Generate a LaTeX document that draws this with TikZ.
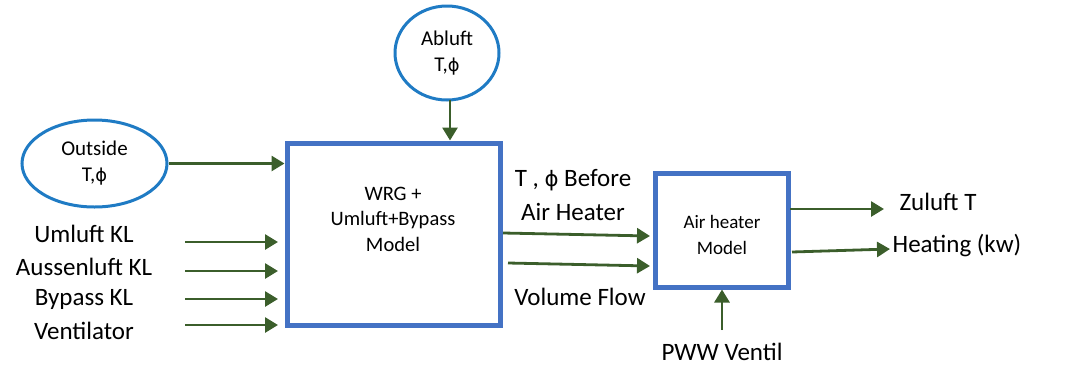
\documentclass[tikz,border=0pt]{standalone}
\usepackage{fontspec}
\setmainfont{Carlito}
\newfontfamily\phifont{DejaVu Sans}
\newcommand{\myphi}{{\phifont\scalebox{0.85}{ϕ}}}
\usetikzlibrary{arrows.meta,shapes.geometric}
\definecolor{boxblue}{HTML}{4472C4}
\definecolor{ellblue}{HTML}{1F7BC4}
\definecolor{arrgreen}{HTML}{3B5E2B}
\tikzset{
  ell/.style={draw=ellblue,line width=3pt,ellipse,inner sep=0pt,align=center,font=\fontsize{21}{26}\selectfont},
  modelbox/.style={draw=boxblue,line width=5pt,inner sep=0pt},
  boxtext/.style={inner sep=0pt,align=center,font=\fontsize{20.5}{25.5}\selectfont},
  lbl/.style={inner sep=0pt,align=center,font=\fontsize{25}{34}\selectfont},
  arr/.style={draw=arrgreen,line width=2.8pt,-{Triangle[length=13pt,width=15pt]},fill=arrgreen}
}
\begin{document}
\begin{tikzpicture}[x=1pt,y=-1pt]
\useasboundingbox (0,0) rectangle (1082,365);
% ellipses
\node[ell,minimum width=145pt,minimum height=87pt] (out) at (94.5,163.5) {Outside\\T,\myphi};
\node[ell,minimum width=104pt,minimum height=94pt] (abl) at (447,53) {Abluft\\T,\myphi};
% boxes
\node[modelbox,minimum width=213pt,minimum height=182pt] (wrg) at (393.5,234) {};
\node[boxtext] (wrgt) at (393,219) {WRG +\\Umluft+Bypass\\Model};
\node[modelbox,minimum width=133pt,minimum height=114pt] (ah) at (721.5,230) {};
\node[boxtext,font=\fontsize{19}{26}\selectfont] (aht) at (722,235) {Air heater\\Model};
% left labels
\node[lbl] (umk) at (84,234) {Umluft KL};
\node[lbl] (auk) at (84,267) {Aussenluft KL};
\node[lbl] (byk) at (84,299) {Bypass KL};
\node[lbl] (ven) at (84,331) {Ventilator};
% middle labels
\node[lbl] (tb) at (573,195) {T , \myphi\ Before\\Air Heater};
\node[lbl] (vf) at (580,297) {Volume Flow};
\node[lbl] (pww) at (722,352) {PWW Ventil};
\node[lbl] (zu) at (938,202) {Zuluft T};
\node[lbl] (he) at (957,245) {Heating (kw)};
% coordinates for free ends
\coordinate (u0) at (185,242); \coordinate (u1) at (278,242);
\coordinate (a0) at (185,271); \coordinate (a1) at (278,271);
\coordinate (b0) at (185,299); \coordinate (b1) at (278,299);
\coordinate (v0) at (185,325); \coordinate (v1) at (278,325);
\coordinate (t0) at (503,233); \coordinate (t1) at (650,236);
\coordinate (f0) at (508,263); \coordinate (f1) at (650,266);
\coordinate (z0) at (790,209); \coordinate (z1) at (884,209);
\coordinate (h0) at (792,252); \coordinate (h1) at (890,249);
\coordinate (p0) at (722,330);
\coordinate (o0) at (450,100);
% connectors
\draw[arr] (out.east) -- (out.east -| wrg.west);
\draw[arr] (o0) -- (o0 |- wrg.north);
\draw[arr] (u0) -- (u1);
\draw[arr] (a0) -- (a1);
\draw[arr] (b0) -- (b1);
\draw[arr] (v0) -- (v1);
\draw[arr] (t0) -- (t1);
\draw[arr] (f0) -- (f1);
\draw[arr] (z0) -- (z1);
\draw[arr] (h0) -- (h1);
\draw[arr] (p0) -- (p0 |- ah.south);
\end{tikzpicture}
\end{document}
